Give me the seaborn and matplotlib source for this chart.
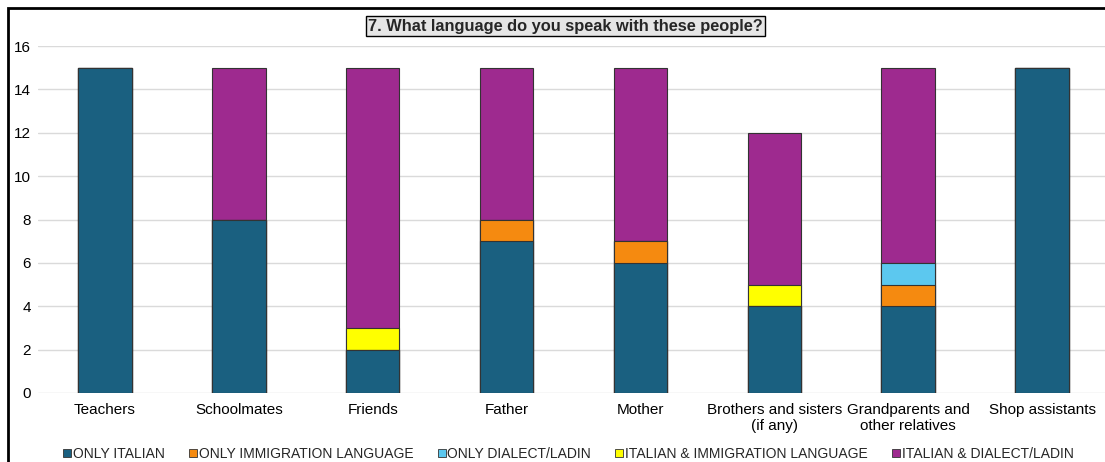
import matplotlib
matplotlib.use("Agg")
import matplotlib.pyplot as plt
from matplotlib.patches import Rectangle
from matplotlib.lines import Line2D
import numpy as np
import pandas as pd
import seaborn as sns

categories = ["Teachers", "Schoolmates", "Friends", "Father", "Mother",
              "Brothers and sisters\n(if any)", "Grandparents and\nother relatives",
              "Shop assistants"]
only_italian = [15, 8, 2, 7, 6, 4, 4, 15]
only_immigration = [0, 0, 0, 1, 1, 0, 1, 0]
only_dialect = [0, 0, 0, 0, 0, 0, 1, 0]
italian_immigration = [0, 0, 1, 0, 0, 1, 0, 0]
italian_dialect = [0, 7, 12, 7, 8, 7, 9, 0]

series_names = ["ONLY ITALIAN", "ONLY IMMIGRATION LANGUAGE", "ONLY DIALECT/LADIN",
                "ITALIAN & IMMIGRATION LANGUAGE", "ITALIAN & DIALECT/LADIN"]
series_values = [only_italian, only_immigration, only_dialect,
                 italian_immigration, italian_dialect]
colors = ["#1A6080", "#F58A10", "#5CC8EF", "#FFFF00", "#9E2A8F"]

sns.set_theme(style="white")
plt.rcParams["font.family"] = ["Liberation Sans", "DejaVu Sans"]

fig = plt.figure(figsize=(11.05, 4.62), dpi=100)
ax = fig.add_axes([38 / 1105, 1 - 393 / 462, 1071 / 1105, 347 / 462])

# stacked bars: draw cumulative totals from the top layer down
cum = np.cumsum(np.array(series_values), axis=0)
for i in range(len(series_names) - 1, -1, -1):
    df = pd.DataFrame({"cat": categories, "val": cum[i]})
    sns.barplot(data=df, x="cat", y="val", color=colors[i], width=0.4,
                edgecolor="#333333", linewidth=0.8, saturation=1, ax=ax, zorder=3)

ax.set_ylim(0, 16)
ax.set_yticks(range(0, 17, 2))
ax.set_xlim(-0.5, len(categories) - 0.5)
ax.grid(axis="y", color="#DADADA", linewidth=1, zorder=0)
ax.set_axisbelow(True)
for s in ax.spines.values():
    s.set_visible(False)
ax.set_xlabel("")
ax.set_ylabel("")
ax.tick_params(axis="both", length=0, labelsize=11, colors="#000000")
ax.tick_params(axis="y", pad=5)
ax.tick_params(axis="x", pad=7)

ax.set_title("7. What language do you speak with these people?",
             fontsize=11.8, fontweight="bold", pad=11, x=0.5 - 8 / 1071,
             bbox=dict(boxstyle="square,pad=0.15", facecolor="#E6E6E6",
                       edgecolor="#000000", linewidth=1))

handles = [Line2D([0], [0], marker="s", linestyle="none", markersize=5.5,
                  markerfacecolor=c, markeredgecolor="#333333", markeredgewidth=0.6)
           for c in colors]
fig.legend(handles, series_names, loc="center", bbox_to_anchor=(568 / 1105, 1 - 454 / 462),
           ncol=5, frameon=False, fontsize=10, handletextpad=0.05,
           columnspacing=1.7, handlelength=0.7)

# outer frame
fig.patches.append(Rectangle((8 / 1105, -0.1), 1.2, (462 - 8) / 462 + 0.1,
                             transform=fig.transFigure, fill=False,
                             edgecolor="#000000", linewidth=2, zorder=10))

fig.savefig("out.png", dpi=100)
